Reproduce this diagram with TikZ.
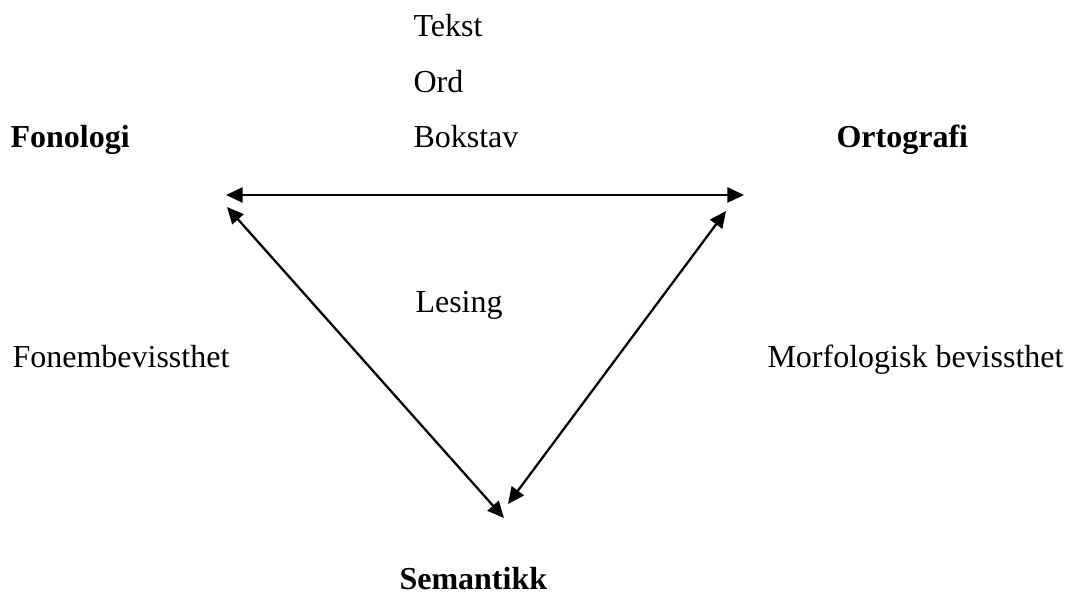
\documentclass[tikz,border=0pt]{standalone}
\usepackage{fontspec}
\setmainfont{Liberation Serif}
\usepackage{tikz}
\usetikzlibrary{arrows.meta}

\begin{document}
\begin{tikzpicture}[
  x=0.375pt, y=-0.375pt,
  word/.style={anchor=base west, inner sep=0pt, font=\fontsize{12}{14}\selectfont},
  head/.style={word, font=\fontsize{12}{14}\selectfont\bfseries},
  link/.style={{Triangle[length=6.2pt,width=5.6pt]}-{Triangle[length=6.2pt,width=5.6pt]}, line width=0.85pt}
]
  \useasboundingbox (0,0) rectangle (1066,592);

  % levels
  \node[word] (tekst) at (413,37) {Tekst};
  \node[word] (ord) at (413,93) {Ord};
  \node[word] (bokstav) at (413,148) {Bokstav};

  % corners
  \node[head] (fonologi) at (10,148) {Fonologi};
  \node[head] (ortografi) at (836,148) {Ortografi};
  \node[head] (semantikk) at (399,589) {Semantikk};

  \node[word] (lesing) at (415,313) {Lesing};
  \node[word] (fonem) at (12,368) {Fonembevissthet};
  \node[word] (morf) at (767,368) {Morfologisk bevissthet};

  % triangle
  \coordinate (fonL) at (226,195);
  \coordinate (ortR) at (744,195);
  \coordinate (fonD) at (227,207);
  \coordinate (semL) at (504,518);
  \coordinate (ortD) at (726,211);
  \coordinate (semR) at (508,504);

  \draw[link] (fonL) -- (ortR);
  \draw[link] (fonD) -- (semL);
  \draw[link] (ortD) -- (semR);
\end{tikzpicture}
\end{document}
